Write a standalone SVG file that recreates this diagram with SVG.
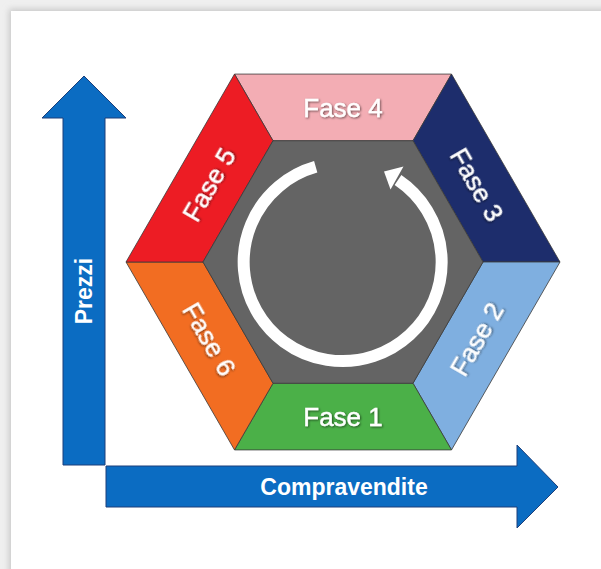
<svg xmlns="http://www.w3.org/2000/svg" width="601" height="569" viewBox="0 0 601 569">
  <defs>
    <filter id="panelShadow" x="-5%" y="-5%" width="110%" height="110%">
      <feGaussianBlur stdDeviation="3"/>
    </filter>
    <filter id="txtShadow" x="-20%" y="-30%" width="140%" height="160%">
      <feDropShadow dx="1" dy="1" stdDeviation="0.8" flood-color="#000" flood-opacity="0.55"/>
    </filter>
    <style>
      .seg { stroke: #3a3a3a; stroke-width: 0.8; stroke-linejoin: miter; }
      .arrow { fill: #0b6cc2; stroke: #1d3f7a; stroke-width: 1; }
      .fase { font-family: "Liberation Sans", Arial, sans-serif; font-size: 26px; fill: #ffffff; stroke: #ffffff; stroke-width: 0.4; text-anchor: middle; filter: url(#txtShadow); }
      .axis { font-family: "Liberation Sans", Arial, sans-serif; font-size: 23px; font-weight: bold; fill: #ffffff; text-anchor: middle; }
    </style>
  </defs>

  <rect x="0" y="0" width="601" height="569" fill="#efefef"/>
  <rect x="9" y="9" width="600" height="570" fill="#c8c8c8" filter="url(#panelShadow)"/>
  <rect x="11" y="11" width="600" height="570" fill="#ffffff"/>

  <g id="connectors">
    <path id="axis-prezzi" class="arrow" d="M84 76 L126 118 L105 118 L105 465 L63 465 L63 118 L42 118 Z"/>
    <path id="axis-compravendite" class="arrow" d="M106 466 L517 466 L517 445 L558 487 L517 528 L517 507 L106 507 Z"/>
  </g>
  <text class="axis" x="0" y="0" transform="translate(92 291) rotate(-90)">Prezzi</text>
  <text class="axis" x="344" y="495">Compravendite</text>

  <g id="fase4">
    <polygon class="seg" fill="#f3adb4" points="234.5,74.07 451.5,74.07 413,140.76 273,140.76"/>
    <text class="fase" x="343" y="116.5">Fase 4</text>
  </g>
  <g id="fase3">
    <polygon class="seg" fill="#1d2d6c" points="451.5,74.07 560,262 483,262 413,140.76"/>
    <text class="fase" x="0" y="0" transform="translate(476.8 184.75) rotate(60) translate(0 9)">Fase 3</text>
  </g>
  <g id="fase2">
    <polygon class="seg" fill="#7fafe0" points="560,262 451.5,449.93 413,383.24 483,262"/>
    <text class="fase" x="0" y="0" transform="translate(476.8 339.25) rotate(-60) translate(0 9)">Fase 2</text>
  </g>
  <g id="fase1">
    <polygon class="seg" fill="#4bb048" points="451.5,449.93 234.5,449.93 273,383.24 413,383.24"/>
    <text class="fase" x="343" y="425.5">Fase 1</text>
  </g>
  <g id="fase6">
    <polygon class="seg" fill="#f26d22" points="234.5,449.93 126,262 203,262 273,383.24"/>
    <text class="fase" x="0" y="0" transform="translate(209.2 339.25) rotate(60) translate(0 9)">Fase 6</text>
  </g>
  <g id="fase5">
    <polygon class="seg" fill="#ed1c24" points="126,262 234.5,74.07 273,140.76 203,262"/>
    <text class="fase" x="0" y="0" transform="translate(209.2 184.75) rotate(-60) translate(0 9)">Fase 5</text>
  </g>

  <g id="centro">
    <polygon class="seg" fill="#646464" points="483,262 413,140.76 273,140.76 203,262 273,383.24 413,383.24"/>
    <path d="M398 180 A99 99 0 1 1 315.71 166.83" fill="none" stroke="#ffffff" stroke-width="12"/>
    <polygon fill="#ffffff" points="403.5,166.5 384,171.5 390.5,189.5"/>
  </g>
</svg>
